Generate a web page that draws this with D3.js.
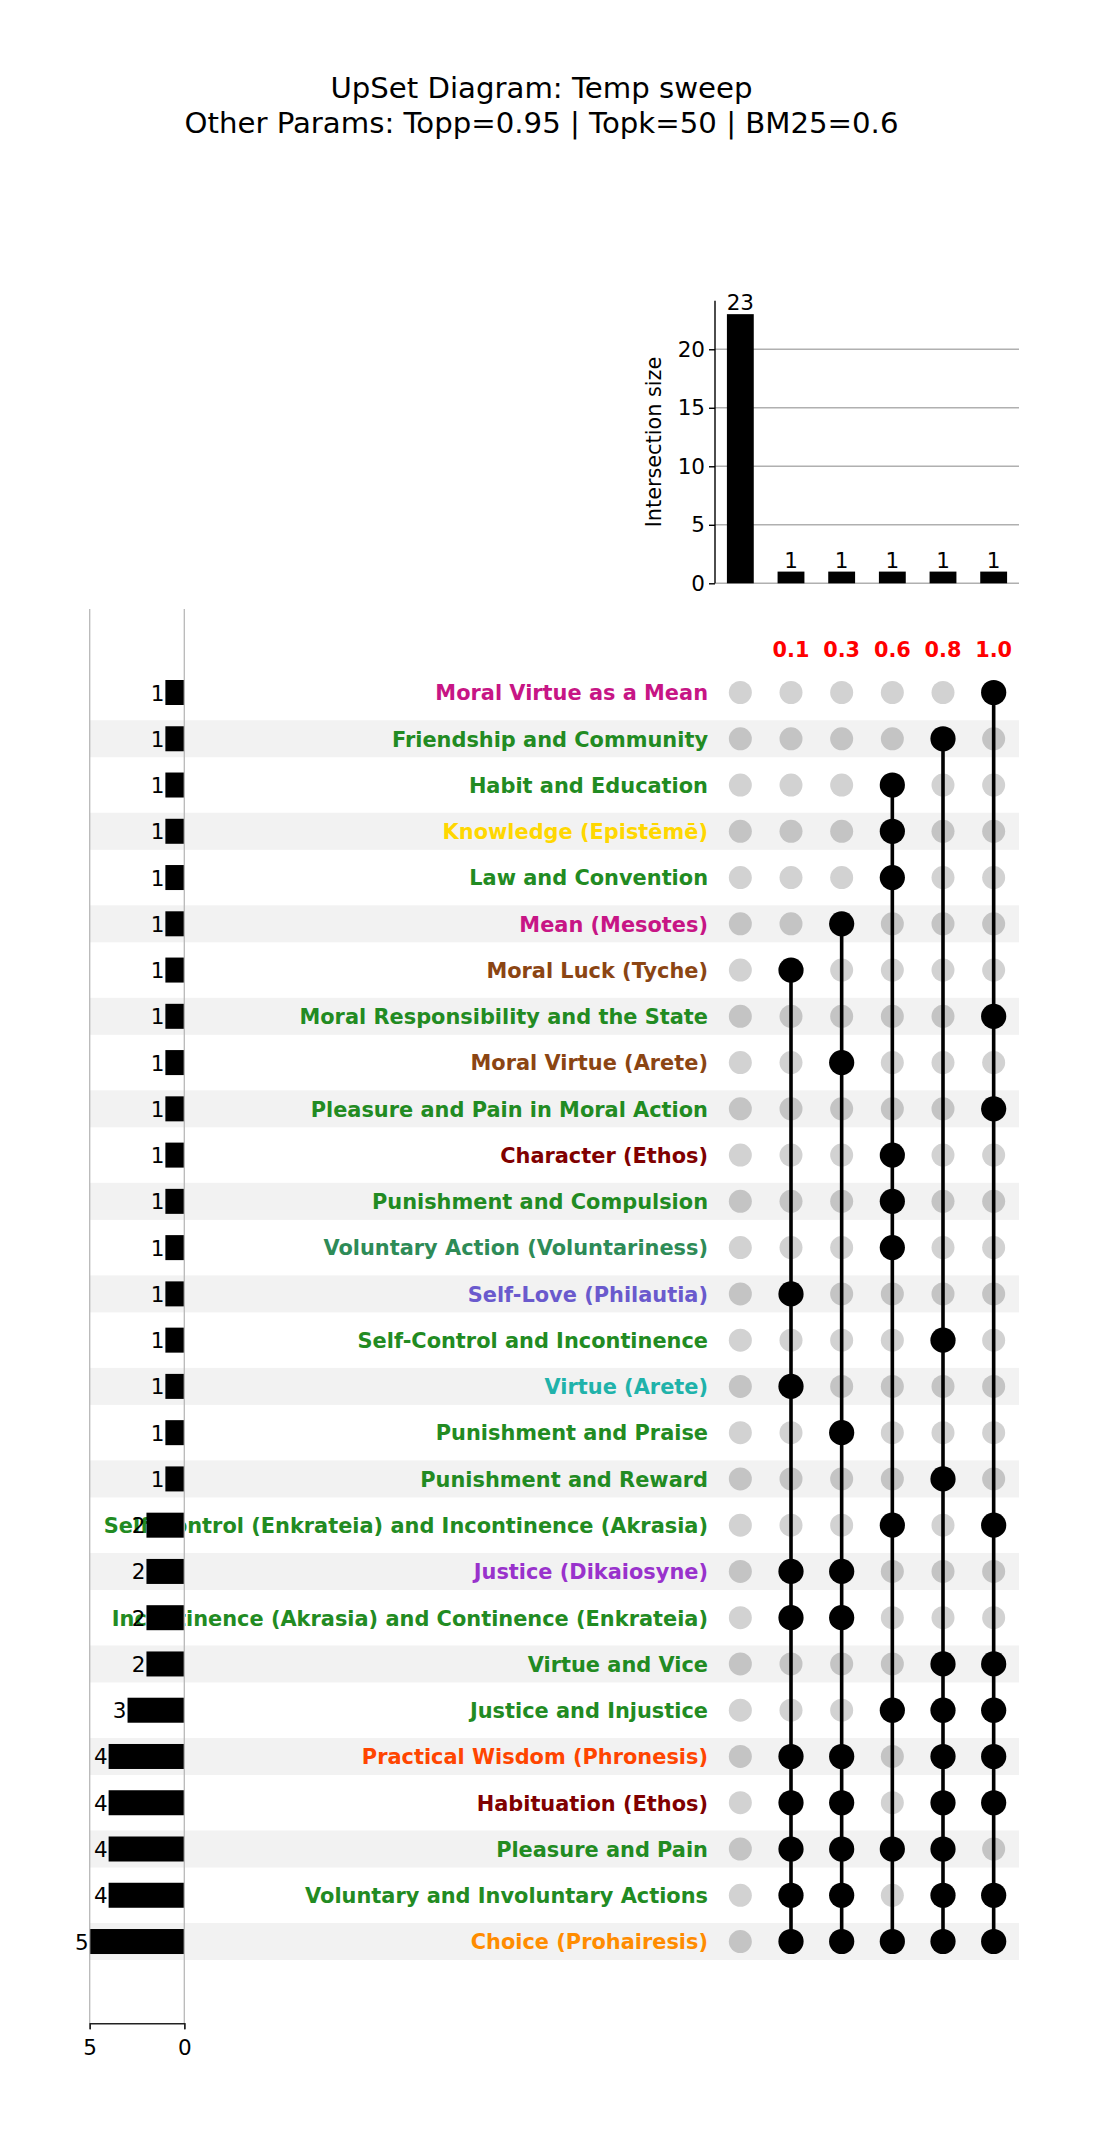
<!DOCTYPE html>
<html>
<head>
<meta charset="utf-8">
<script src="https://cdn.jsdelivr.net/npm/d3@7"></script>
<style>
html,body{margin:0;padding:0;background:#fff;}
svg{display:block;font-family:"DejaVu Sans",sans-serif;}
</style>
</head>
<body>
<svg id="chart" width="1094" height="2133"></svg>
<script>
// ---------- DATA ----------
const titleLines = ["UpSet Diagram: Temp sweep", "Other Params: Topp=0.95 | Topk=50 | BM25=0.6"];
const columnLabels = ["", "0.1", "0.3", "0.6", "0.8", "1.0"];
const intersectionSizes = [23, 1, 1, 1, 1, 1];
const intersectionTicks = [0, 5, 10, 15, 20];
const rowLabels = [
  "Moral Virtue as a Mean",
  "Friendship and Community",
  "Habit and Education",
  "Knowledge (Epistēmē)",
  "Law and Convention",
  "Mean (Mesotes)",
  "Moral Luck (Tyche)",
  "Moral Responsibility and the State",
  "Moral Virtue (Arete)",
  "Pleasure and Pain in Moral Action",
  "Character (Ethos)",
  "Punishment and Compulsion",
  "Voluntary Action (Voluntariness)",
  "Self-Love (Philautia)",
  "Self-Control and Incontinence",
  "Virtue (Arete)",
  "Punishment and Praise",
  "Punishment and Reward",
  "Self-Control (Enkrateia) and Incontinence (Akrasia)",
  "Justice (Dikaiosyne)",
  "Incontinence (Akrasia) and Continence (Enkrateia)",
  "Virtue and Vice",
  "Justice and Injustice",
  "Practical Wisdom (Phronesis)",
  "Habituation (Ethos)",
  "Pleasure and Pain",
  "Voluntary and Involuntary Actions",
  "Choice (Prohairesis)"
];
const rowColors = [
  "#c71585", "#228b22", "#228b22", "#ffd700", "#228b22", "#c71585", "#8b4513",
  "#228b22", "#8b4513", "#228b22", "#800000", "#228b22", "#2e8b57", "#6a5acd",
  "#228b22", "#20b2aa", "#228b22", "#228b22", "#228b22", "#9932cc", "#228b22",
  "#228b22", "#228b22", "#ff4500", "#800000", "#228b22", "#228b22", "#ff8c00"
];
const rowTotals = [1,1,1,1,1,1,1,1,1,1,1,1,1,1,1,1,1,1,2,2,2,2,3,4,4,4,4,5];
const totalTicks = [5, 0];
// membership: list of column indices (1..5) that are filled for each row
const rowMembers = [
  [5], [4], [3], [3], [3], [2], [1], [5], [2], [5], [3], [3], [3], [1],
  [4], [1], [2], [4], [3,5], [1,2], [1,2], [4,5], [3,4,5], [1,2,4,5],
  [1,2,4,5], [1,2,3,4], [1,2,4,5], [1,2,3,4,5]
];

// ---------- LAYOUT ----------
const svg = d3.select("#chart");
const FONT = "DejaVu Sans, sans-serif";
const NUM_FS = 21.5;

const cols = d3.range(columnLabels.length);
const rows = d3.range(rowLabels.length);

const x = d3.scaleBand().domain(cols).range([715, 1019]).paddingInner(0.47).paddingOuter(0.235);
const xc = c => x(c) + x.bandwidth() / 2;
const rowStep = 46.26;
const y = d3.scaleBand().domain(rows).range([692.5 - rowStep/2, 692.5 - rowStep/2 + rowStep*rows.length]).paddingInner(0).paddingOuter(0);
const yc = r => y(r) + y.bandwidth() / 2;

const yTop = d3.scaleLinear().domain([0, 24.15]).range([583.3, 300.7]);
const xTot = d3.scaleLinear().domain([0, 5]).range([184.3, 89.7]);

// ---------- TITLE ----------
svg.append("g").selectAll("text").data(titleLines).join("text")
  .attr("x", 541.5).attr("y", (d,i) => 98 + i*34.5)
  .attr("text-anchor", "middle")
  .attr("font-size", 29.2).attr("fill", "#000")
  .text(d => d);

// ---------- TOP BAR CHART ----------
const gTop = svg.append("g");
gTop.selectAll("line.grid").data(intersectionTicks).join("line")
  .attr("class", "grid")
  .attr("x1", 715).attr("x2", 1019)
  .attr("y1", d => yTop(d)).attr("y2", d => yTop(d))
  .attr("stroke", "#b0b0b0").attr("stroke-width", 1.4);

gTop.selectAll("rect").data(intersectionSizes).join("rect")
  .attr("x", (d,i) => x(i)).attr("width", x.bandwidth())
  .attr("y", d => yTop(d)).attr("height", d => yTop(0) - yTop(d))
  .attr("fill", "#000");

gTop.selectAll("text.cnt").data(intersectionSizes).join("text")
  .attr("class", "cnt")
  .attr("x", (d,i) => xc(i)).attr("y", d => yTop(d) - 4)
  .attr("text-anchor", "middle").attr("font-size", NUM_FS)
  .text(d => d);

const yAxis = d3.axisLeft(yTop).tickValues(intersectionTicks).tickFormat(d3.format("d")).tickSize(6).tickPadding(4);
const gAx = gTop.append("g").attr("transform", "translate(715,0)").call(yAxis);
gAx.attr("font-family", FONT).attr("font-size", NUM_FS);
gAx.select(".domain").attr("stroke", "#000").attr("stroke-width", 1.4).attr("d", `M0,${yTop(24.15)}V${yTop(0)}`);
gAx.selectAll(".tick line").attr("stroke", "#000").attr("stroke-width", 1.4);
gAx.selectAll(".tick text").attr("font-size", NUM_FS).attr("font-family", FONT).attr("fill", "#000");

gTop.append("text")
  .attr("transform", `translate(661,${(yTop(0)+yTop(24.15))/2}) rotate(-90)`)
  .attr("text-anchor", "middle").attr("font-size", 20.8)
  .text("Intersection size");

// ---------- COLUMN LABELS ----------
svg.append("g").selectAll("text").data(columnLabels).join("text")
  .attr("x", (d,i) => xc(i)).attr("y", 656.5)
  .attr("text-anchor", "middle").attr("font-size", 20.8).attr("font-weight", "bold")
  .attr("fill", "#ff0000")
  .text(d => d);

// ---------- ROW SHADING ----------
const bandH = rowStep * 0.8;
svg.append("g").selectAll("rect").data(rows.filter(r => r % 2 === 1)).join("rect")
  .attr("x", 89.7).attr("width", 1019 - 89.7)
  .attr("y", r => yc(r) - bandH/2).attr("height", bandH)
  .attr("fill", "#f2f2f2");

// ---------- ROW LABELS ----------
svg.append("g").selectAll("text").data(rows).join("text")
  .attr("x", 708).attr("y", r => yc(r) + 7.8)
  .attr("text-anchor", "end").attr("font-size", 20.9).attr("font-weight", "bold")
  .attr("fill", r => rowColors[r])
  .text(r => rowLabels[r]);

// ---------- TOTALS (LEFT) ----------
const gTot = svg.append("g");
const barH = 25;
gTot.selectAll("rect").data(rows).join("rect")
  .attr("x", r => xTot(rowTotals[r])).attr("width", r => xTot(0) - xTot(rowTotals[r]))
  .attr("y", r => yc(r) - barH/2).attr("height", barH)
  .attr("fill", "#000");
gTot.selectAll("text").data(rows).join("text")
  .attr("x", r => xTot(rowTotals[r]) - 1).attr("y", r => yc(r) + 8)
  .attr("text-anchor", "end").attr("font-size", NUM_FS)
  .text(r => rowTotals[r]);

// vertical gray lines
gTot.selectAll("line.v").data([5, 0]).join("line")
  .attr("class", "v")
  .attr("x1", d => xTot(d)).attr("x2", d => xTot(d))
  .attr("y1", 609).attr("y2", 2023.3)
  .attr("stroke", "#b8b8b8").attr("stroke-width", 1.3);

const xAxisTot = d3.axisBottom(xTot).tickValues(totalTicks).tickFormat(d3.format("d")).tickSize(6).tickPadding(10);
const gxa = gTot.append("g").attr("transform", "translate(0,2023.3)").call(xAxisTot);
gxa.attr("font-family", FONT).attr("font-size", NUM_FS);
gxa.select(".domain").attr("stroke", "#222").attr("stroke-width", 1.4);
gxa.selectAll(".tick line").attr("stroke", "#222").attr("stroke-width", 1.4);
gxa.selectAll(".tick text").attr("font-size", NUM_FS).attr("font-family", FONT).attr("fill", "#000");

// ---------- MATRIX ----------
const gM = svg.append("g");
const cells = [];
rows.forEach(r => cols.forEach(c => cells.push({r, c, on: rowMembers[r].includes(c)})));

gM.selectAll("circle.off").data(cells.filter(d => !d.on)).join("circle")
  .attr("class", "off")
  .attr("cx", d => xc(d.c)).attr("cy", d => yc(d.r)).attr("r", 11.5)
  .attr("fill", d => d.r % 2 === 1 ? "#c4c4c4" : "#d2d2d2");

const colSpans = cols.map(c => {
  const rs = rows.filter(r => rowMembers[r].includes(c));
  return rs.length ? {c, r0: d3.min(rs), r1: d3.max(rs)} : null;
}).filter(d => d && d.r1 > d.r0);

gM.selectAll("line").data(colSpans).join("line")
  .attr("x1", d => xc(d.c)).attr("x2", d => xc(d.c))
  .attr("y1", d => yc(d.r0)).attr("y2", d => yc(d.r1))
  .attr("stroke", "#000").attr("stroke-width", 3.6);

gM.selectAll("circle.on").data(cells.filter(d => d.on)).join("circle")
  .attr("class", "on")
  .attr("cx", d => xc(d.c)).attr("cy", d => yc(d.r)).attr("r", 12.6)
  .attr("fill", "#000");
</script>
</body>
</html>
